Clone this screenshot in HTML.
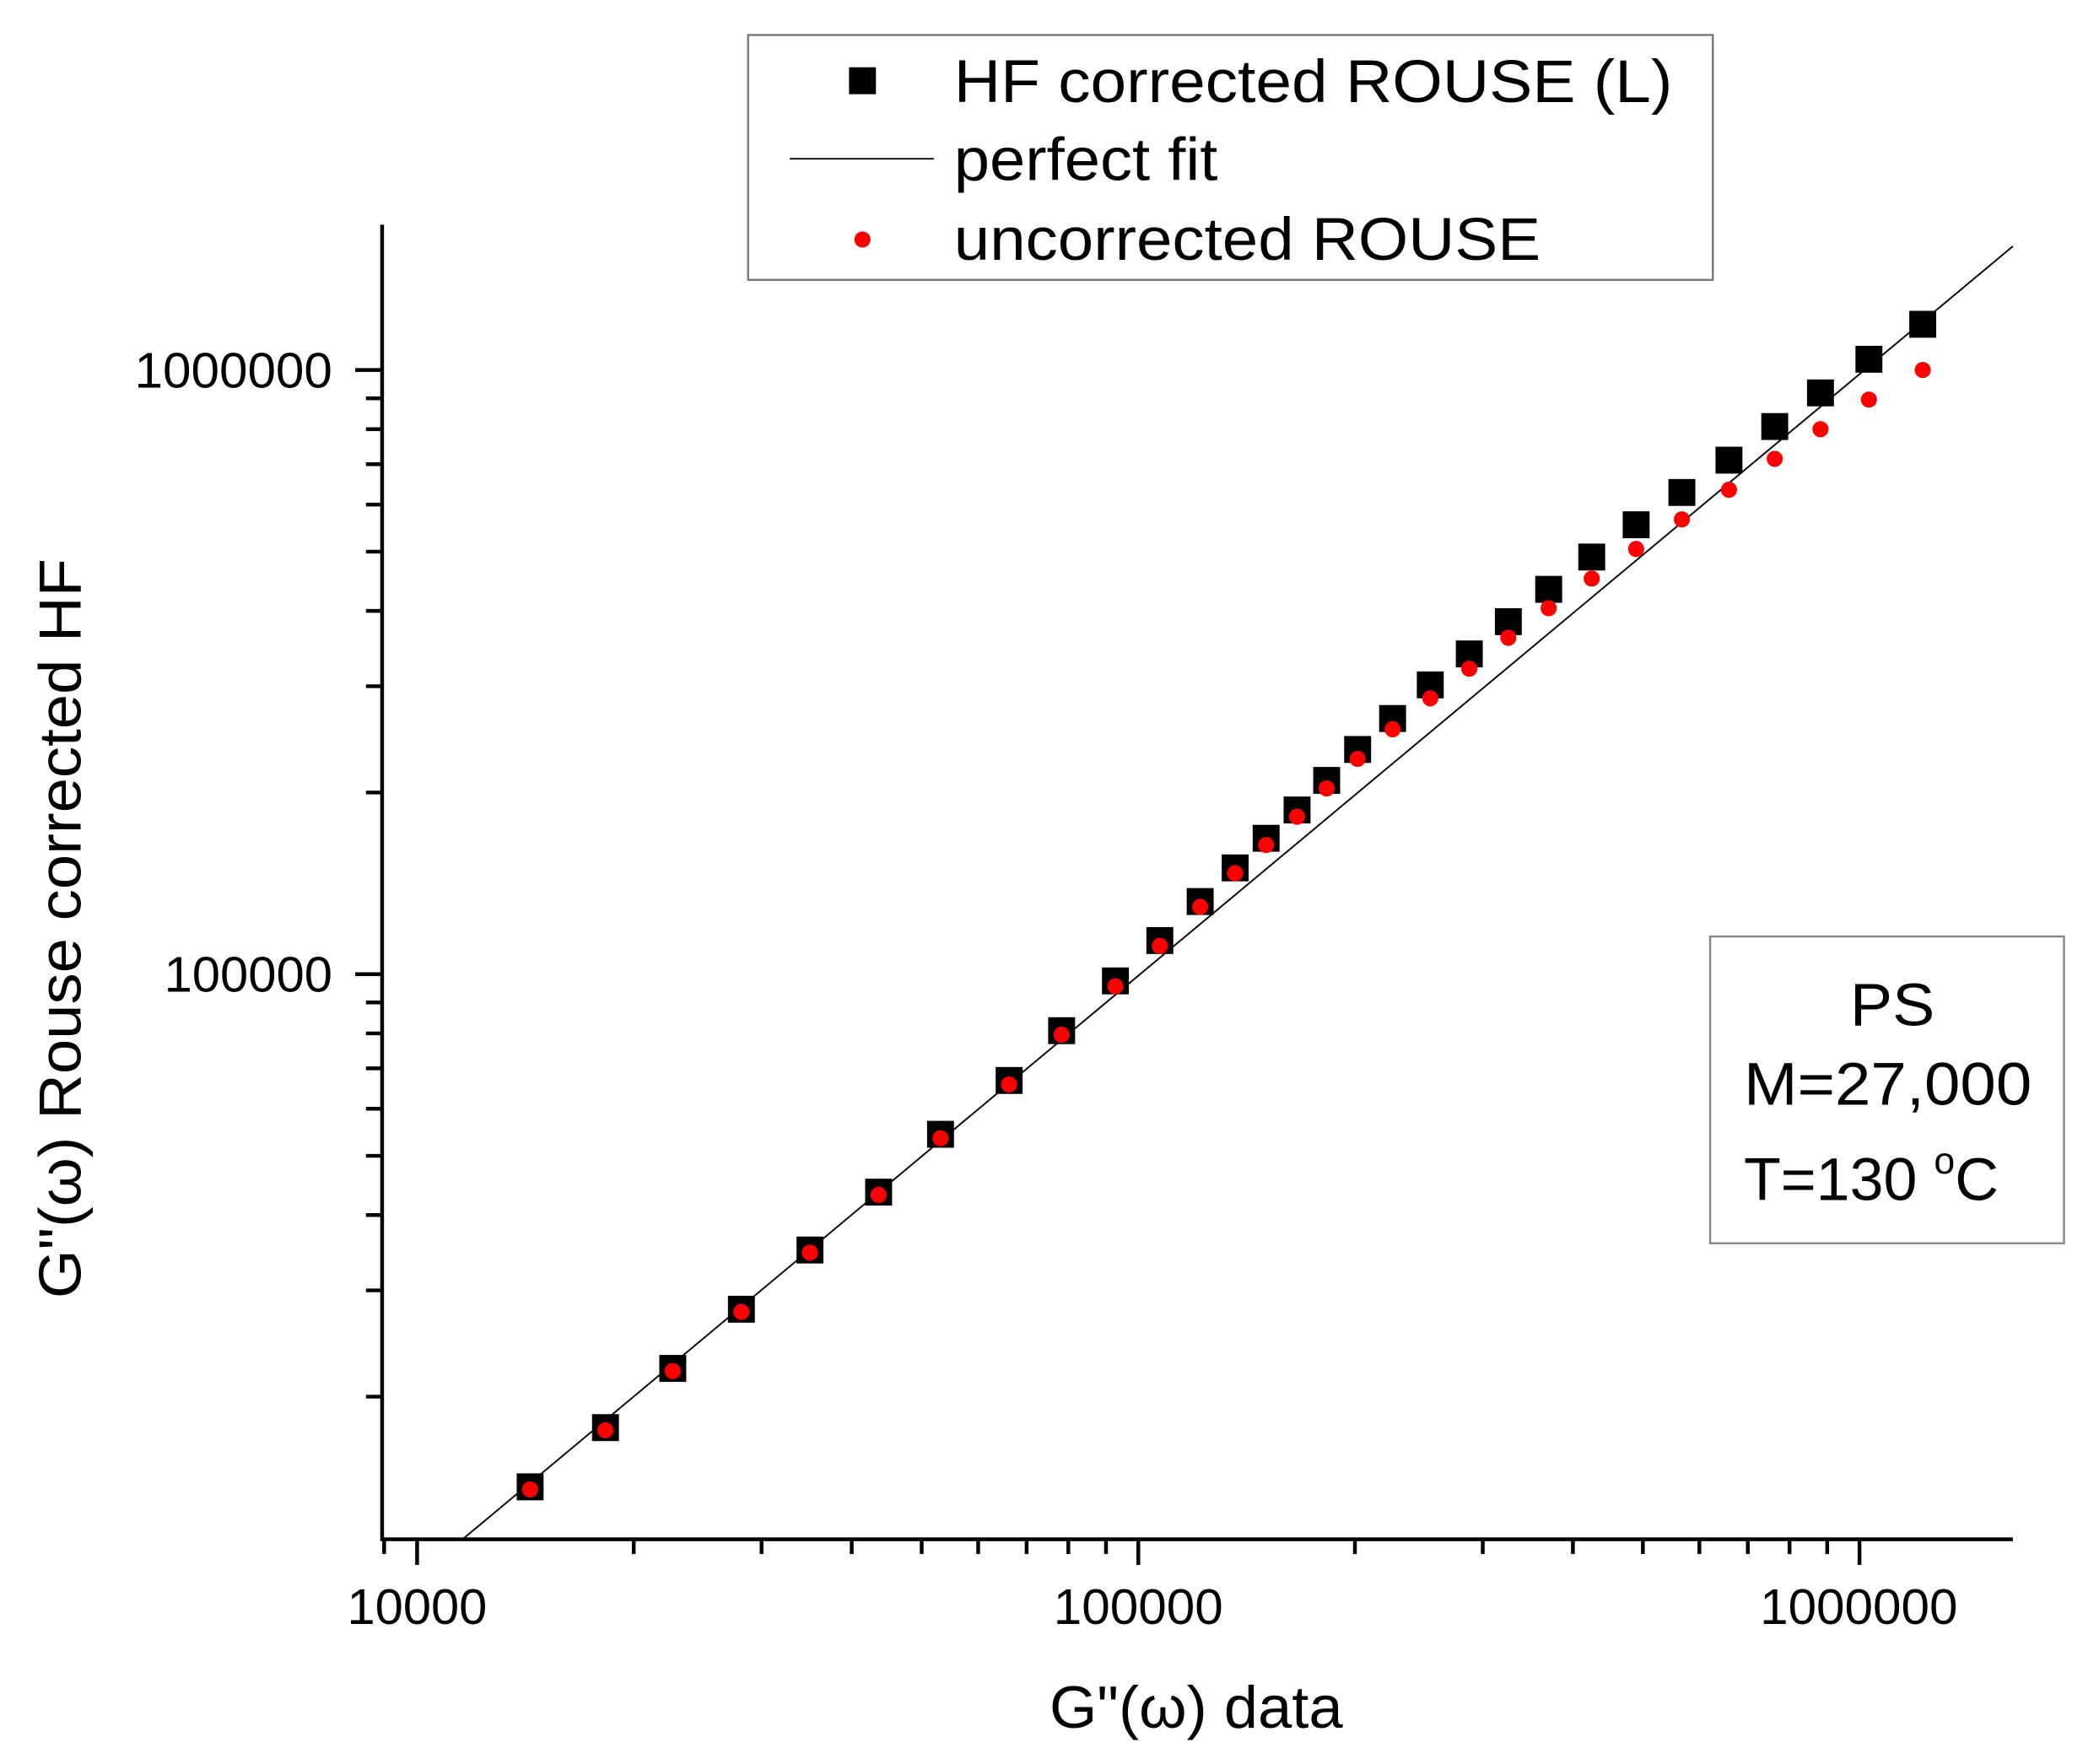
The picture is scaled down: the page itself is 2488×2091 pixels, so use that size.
<!DOCTYPE html>
<html><head><style>html,body{margin:0;padding:0;background:#fff}svg{display:block}</style></head>
<body>
<svg width="2488" height="2091" viewBox="0 0 1560 1311" preserveAspectRatio="none" xmlns="http://www.w3.org/2000/svg" font-family="Liberation Sans, Arial, sans-serif">
<rect width="1560" height="1311" fill="#fff"/>
<g stroke="#000" stroke-width="2.8" fill="none">
<path d="M284,167 V1144 H1496"/>
<path d="M310,1143 v20 M846,1143 v20 M1382,1143 v20"/>
<path d="M285.5,1143 v12 M471,1143 v12 M566,1143 v12 M633,1143 v12 M685,1143 v12 M727,1143 v12 M763,1143 v12 M794,1143 v12 M822,1143 v12 M1007,1143 v12 M1102,1143 v12 M1169,1143 v12 M1221,1143 v12 M1263,1143 v12 M1299,1143 v12 M1330,1143 v12 M1358,1143 v12"/>
<path d="M284,275 h-20 M284,724 h-20"/>
<path d="M284,1038 h-12 M284,959 h-12 M284,903 h-12 M284,859 h-12 M284,824 h-12 M284,794 h-12 M284,768 h-12 M284,745 h-12 M284,589 h-12 M284,510 h-12 M284,454 h-12 M284,410 h-12 M284,375 h-12 M284,345 h-12 M284,319 h-12 M284,296 h-12"/>
</g>
<g font-size="37" fill="#000">
<text x="258" y="1207" textLength="104" lengthAdjust="spacingAndGlyphs">10000</text>
<text x="783" y="1207" textLength="126" lengthAdjust="spacingAndGlyphs">100000</text>
<text x="1308" y="1207" textLength="147" lengthAdjust="spacingAndGlyphs">1000000</text>
<text x="100" y="288" textLength="147" lengthAdjust="spacingAndGlyphs">1000000</text>
<text x="122" y="737" textLength="125" lengthAdjust="spacingAndGlyphs">100000</text>
</g>
<text x="780" y="1284" font-size="44" textLength="218" lengthAdjust="spacingAndGlyphs">G"(ω) data</text>
<text transform="translate(60,965) rotate(-90)" font-size="44" textLength="550" lengthAdjust="spacingAndGlyphs">G"(ω) Rouse corrected HF</text>
<line x1="345" y1="1143" x2="1496" y2="183" stroke="#000" stroke-width="1.2"/>
<g fill="#000">
<rect x="384" y="1095" width="20" height="20"/><rect x="440" y="1051" width="20" height="20"/><rect x="490" y="1007" width="20" height="20"/><rect x="541" y="963" width="20" height="20"/><rect x="592" y="919" width="20" height="20"/><rect x="643" y="876" width="20" height="20"/><rect x="689" y="833" width="20" height="20"/><rect x="740" y="793" width="20" height="20"/><rect x="779" y="756" width="20" height="20"/><rect x="819" y="719" width="20" height="20"/><rect x="852" y="689" width="20" height="20"/><rect x="882" y="660" width="20" height="20"/><rect x="908" y="635" width="20" height="20"/><rect x="931" y="613" width="20" height="20"/><rect x="954" y="592" width="20" height="20"/><rect x="976" y="570" width="20" height="20"/><rect x="999" y="547" width="20" height="20"/><rect x="1025" y="524" width="20" height="20"/><rect x="1053" y="499" width="20" height="20"/><rect x="1082" y="476" width="20" height="20"/><rect x="1111" y="452" width="20" height="20"/><rect x="1141" y="428" width="20" height="20"/><rect x="1173" y="404" width="20" height="20"/><rect x="1206" y="380" width="20" height="20"/><rect x="1240" y="356" width="20" height="20"/><rect x="1275" y="332" width="20" height="20"/><rect x="1309" y="307" width="20" height="20"/><rect x="1343" y="282" width="20" height="20"/><rect x="1379" y="257" width="20" height="20"/><rect x="1419" y="231" width="20" height="20"/>
</g>
<g fill="#f00">
<circle cx="394" cy="1107" r="6"/><circle cx="450" cy="1063" r="6"/><circle cx="500" cy="1019" r="6"/><circle cx="551" cy="975" r="6"/><circle cx="602" cy="931" r="6"/><circle cx="653" cy="888" r="6"/><circle cx="699" cy="846" r="6"/><circle cx="750" cy="806" r="6"/><circle cx="789" cy="769" r="6"/><circle cx="829" cy="733" r="6"/><circle cx="862" cy="703" r="6"/><circle cx="892" cy="674" r="6"/><circle cx="918" cy="649" r="6"/><circle cx="941" cy="628" r="6"/><circle cx="964" cy="607" r="6"/><circle cx="986" cy="586" r="6"/><circle cx="1009" cy="564" r="6"/><circle cx="1035" cy="542" r="6"/><circle cx="1063" cy="519" r="6"/><circle cx="1092" cy="497" r="6"/><circle cx="1121" cy="474" r="6"/><circle cx="1151" cy="452" r="6"/><circle cx="1183" cy="430" r="6"/><circle cx="1216" cy="408" r="6"/><circle cx="1250" cy="386" r="6"/><circle cx="1285" cy="364" r="6"/><circle cx="1319" cy="341" r="6"/><circle cx="1353" cy="319" r="6"/><circle cx="1389" cy="297" r="6"/><circle cx="1429" cy="275" r="6"/>
</g>
<rect x="556" y="26" width="717" height="182" fill="#fff" stroke="#777" stroke-width="1.5"/>
<rect x="631" y="50" width="20" height="20" fill="#000"/>
<line x1="587" y1="118" x2="694" y2="118" stroke="#000" stroke-width="1.2"/>
<circle cx="641" cy="178" r="6" fill="#f00"/>
<g font-size="45" fill="#000">
<text x="709" y="76" textLength="534" lengthAdjust="spacingAndGlyphs">HF corrected ROUSE (L)</text>
<text x="709" y="134" textLength="196" lengthAdjust="spacingAndGlyphs">perfect fit</text>
<text x="709" y="193" textLength="436" lengthAdjust="spacingAndGlyphs">uncorrected ROUSE</text>
</g>
<rect x="1271" y="696" width="263" height="228" fill="#fff" stroke="#888" stroke-width="1.5"/>
<g font-size="45" fill="#000">
<text x="1375" y="762" textLength="63" lengthAdjust="spacingAndGlyphs">PS</text>
<text x="1296" y="821" textLength="214" lengthAdjust="spacingAndGlyphs">M=27,000</text>
<text x="1296" y="892">T=130 <tspan font-size="28" dy="-20">o</tspan><tspan dy="20">C</tspan></text>
</g>
</svg>
</body></html>
